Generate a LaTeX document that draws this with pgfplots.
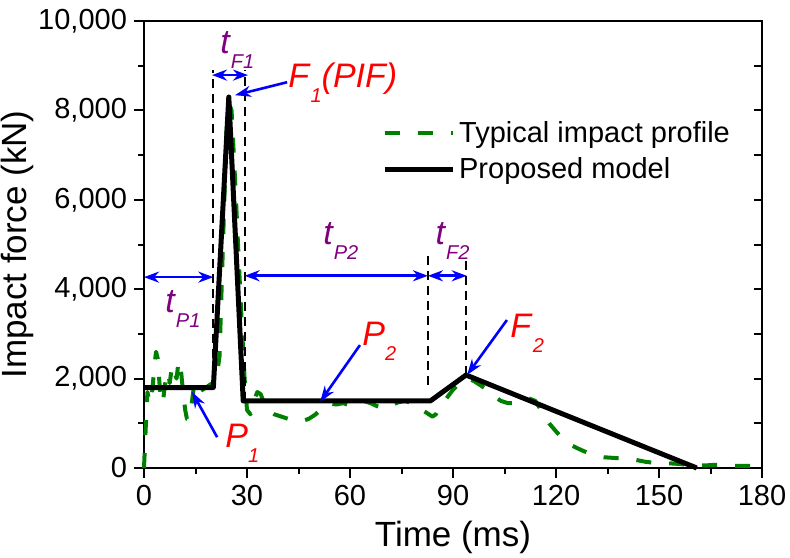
\documentclass[border=0pt]{standalone}
\usepackage{pgfplots}
\pgfplotsset{compat=1.18}
\usepackage{fontspec}
\setmainfont{Liberation Sans}
\usetikzlibrary{arrows.meta}

\definecolor{pgreen}{RGB}{0,128,0}
\definecolor{ppurple}{RGB}{128,0,128}

% big italic letter with a low subscript, as in the original figure
\newcommand{\lab}[2]{\fontsize{17}{19}\selectfont\textit{#1}\raisebox{-7.5pt}{\fontsize{10}{12}\selectfont\textit{#2}}}

\tikzset{
  blu/.style={blue, line width=1.3pt},
  tip/.style={-{Stealth[length=8pt,width=5.5pt]}},
  dtip/.style={{Stealth[length=7.5pt,width=5.5pt]}-{Stealth[length=7.5pt,width=5.5pt]}},
  vdash/.style={black, line width=1pt, dash pattern=on 4.5pt off 3pt},
}

\begin{document}
\begin{tikzpicture}
\begin{axis}[
  scale only axis, width=309pt, height=223.5pt,
  xmin=0, xmax=180, ymin=0, ymax=10000,
  xtick={0,30,...,180}, minor x tick num=1,
  ytick={0,2000,...,10000}, minor y tick num=1,
  xtick pos=left, ytick pos=left,
  tick align=outside,
  major tick length=5pt, minor tick length=2.75pt,
  axis line style={line width=1pt},
  tick style={line width=1pt, black},
  scaled y ticks=false,
  /pgf/number format/1000 sep={,},
  /pgf/number format/assume math mode=true,
  tick label style={font=\fontsize{14.5}{17}\selectfont},
  label style={font=\fontsize{17.5}{20}\selectfont},
  xlabel={Time (ms)}, ylabel={Impact force (kN)},
  xlabel style={at={(axis description cs:0.5,-0.155)}, anchor=center},
  ylabel style={at={(axis description cs:-0.2055,0.5)}, anchor=center},
  clip=false,
  legend style={at={(axis description cs:0.375,0.795)}, anchor=north west,
    draw=none, fill=none, font=\fontsize{14.5}{17}\selectfont,
    row sep=2pt, column sep=0pt},
  legend cell align=left,
  legend image code/.code={\draw[#1] (0pt,0pt) -- (34pt,0pt);},
]
\coordinate (bl) at (rel axis cs:0,0);

% typical impact profile (measured, noisy)
\addplot[pgreen, line width=2pt, dash pattern=on 7.5pt off 9pt, line join=round] coordinates {
  (0,0) (0.5,900) (1,1700) (1.5,1500) (2,1450) (2.5,1800) (3,2250) (3.5,2600)
  (4,2450) (4.5,1900) (5,1500) (5.5,1450) (6,1800) (6.5,2050) (7,2150)
  (7.5,1900) (8,2200) (8.5,2300) (9,2100) (9.5,2000) (10,2350) (10.5,2400)
  (11,2000) (11.5,1600) (12,1300) (12.5,1100) (13,1080) (13.5,1250) (14,1500)
  (14.5,1800) (15,1900) (15.5,1850) (16,1700) (17,1750) (18,1800) (19,1850)
  (20,1900) (21,1950) (22,2500) (23,5000) (24,7500) (24.8,8150) (25.5,8000)
  (26.5,6500) (27.5,4800) (28.5,3200) (29.3,2000) (30,1300) (31,1200)
  (32,1500) (33,1700) (34,1650) (35,1450) (36,1300) (38,1200) (40,1150)
  (42,1100) (44,1100) (46,1050) (48,1100) (50,1200) (52,1350) (54,1450)
  (56,1420) (58,1450) (60,1400) (62,1450) (64,1500) (66,1450) (68,1380)
  (70,1330) (72,1400) (74,1470) (76,1500) (78,1450) (80,1350) (82,1250)
  (84,1150) (85,1200) (86,1350) (88,1550) (90,1750) (92,1900) (94,2000)
  (96,1950) (98,1850) (100,1750) (102,1600) (104,1500) (106,1450) (108,1450)
  (110,1520) (112,1560) (114,1500) (116,1250) (118,1000) (120,820) (122,650)
  (124,530) (126,450) (128,380) (130,320) (132,270) (134,240) (136,230)
  (138,220) (140,220) (142,200) (144,170) (146,140) (148,120) (150,110)
  (152,110) (154,100) (156,90) (158,70) (160,60) (162,60) (164,60) (166,70)
  (168,70) (170,60) (172,50) (174,50) (176,50) (178,40) (180,30)
};
\addlegendentry{Typical impact profile}

% proposed model
\addplot[black, line width=2.5pt, line join=round] coordinates {
  (0,1800) (20.2,1800) (24.7,8300) (28.9,1500) (83.4,1500) (93.8,2080) (161,0)
};
\addlegendentry{Proposed model}

% dashed guides
\draw[vdash] (axis cs:20.2,1800) -- (axis cs:20.2,8900);
\draw[vdash] (axis cs:29.3,1500) -- (axis cs:29.3,8900);
\draw[vdash] (axis cs:82.7,1860) -- (axis cs:82.7,4830);
\draw[vdash] (axis cs:93.8,2080) -- (axis cs:93.8,4650);

% durations
\draw[blu, dtip] (axis cs:0,4270) -- (axis cs:20.2,4270);
\draw[blu, dtip] (axis cs:19.8,8790) -- (axis cs:30.3,8790);
\draw[blu, dtip] (axis cs:29.3,4300) -- (axis cs:82.7,4300);
\draw[blu, dtip] (axis cs:82.7,4300) -- (axis cs:94,4300);

% pointers
\draw[blu, tip] (axis cs:41.7,8630) -- (axis cs:26.5,8340);
\draw[blu, tip] (axis cs:105.7,3310) -- (axis cs:94.1,2080);
\draw[blu, tip] (axis cs:62.9,2750) -- (axis cs:51.3,1480);
\draw[blu, tip] (axis cs:21.3,690) -- (axis cs:14,1700);

% labels
\node[ppurple, anchor=base west, inner sep=0pt] at (axis cs:22.1,9280) {\lab{t}{F1}};
\node[ppurple, anchor=base west, inner sep=0pt] at (axis cs:6.1,3470) {\lab{t}{P1}};
\node[ppurple, anchor=base west, inner sep=0pt] at (axis cs:52.1,4990) {\lab{t}{P2}};
\node[ppurple, anchor=base west, inner sep=0pt] at (axis cs:84.8,4990) {\lab{t}{F2}};
\node[red, anchor=base west, inner sep=0pt] at (axis cs:41.9,8520) {\lab{F}{1}\fontsize{17}{19}\selectfont\textit{(PIF)}};
\node[red, anchor=base west, inner sep=0pt] at (axis cs:106.6,2910) {\lab{F}{2}};
\node[red, anchor=base west, inner sep=0pt] at (axis cs:63.5,2750) {\lab{P}{2}};
\node[red, anchor=base west, inner sep=0pt] at (axis cs:23.6,450) {\lab{P}{1}};
\end{axis}

% inward ticks on the right spine
\begin{axis}[
  scale only axis, width=309pt, height=223.5pt,
  xmin=0, xmax=180, ymin=0, ymax=10000,
  axis x line=none, axis y line*=right,
  ytick={0,2000,...,10000}, minor y tick num=1,
  scaled y ticks=false, yticklabels={}, tick align=inside,
  major tick length=4pt, minor tick length=4pt,
  axis line style={line width=1pt},
  tick style={line width=1pt, black},
]
\end{axis}

\pgfresetboundingbox
\path[use as bounding box] ([shift={(-72pt,-44.5pt)}]bl) rectangle ([shift={(323pt,234pt)}]bl);
\end{tikzpicture}
\end{document}
